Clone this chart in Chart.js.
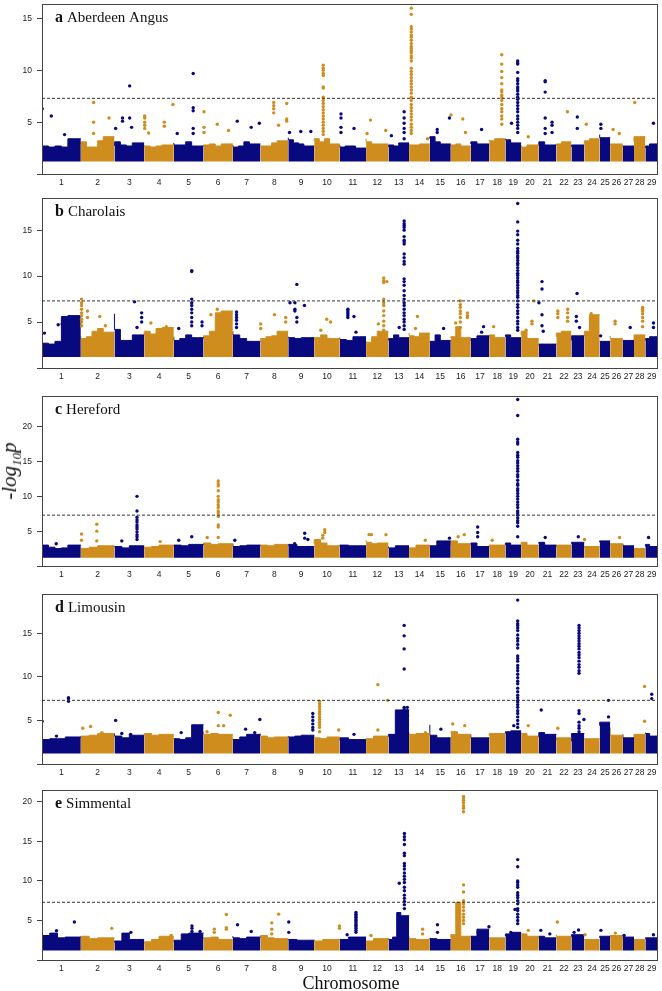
<!DOCTYPE html>
<html lang="en">
<head>
<meta charset="UTF-8">
<title>GWAS Manhattan plots</title>
<script src="https://cdn.jsdelivr.net/npm/chart.js"></script>
<style>
  body {
    margin: 0;
    background: #fff;
    width: 662px;
    height: 991px;
    position: relative;
    overflow: hidden;
  }
  .panel {
    position: absolute;
    left: 0;
    width: 662px;
    height: 196px;
  }
  #ylab {
    position: absolute;
    left: 11px;
    top: 471px;
    transform: translate(-50%, -50%) rotate(-90deg);
    font: italic 21px "Liberation Serif", "Times New Roman", serif;
    white-space: nowrap;
    color: #111;
  }
  #ylab sub { font-size: 13px; }
  #xlab {
    position: absolute;
    left: 351px;
    top: 973px;
    transform: translateX(-50%);
    font: 18px "Liberation Serif", "Times New Roman", serif;
    color: #111;
    white-space: nowrap;
  }
</style>
</head>
<body>
<div class="panel" style="top:0px"><canvas id="chartA" width="662" height="196"></canvas></div>
<div class="panel" style="top:194px"><canvas id="chartB" width="662" height="196"></canvas></div>
<div class="panel" style="top:392px"><canvas id="chartC" width="662" height="196"></canvas></div>
<div class="panel" style="top:590px"><canvas id="chartD" width="662" height="196"></canvas></div>
<div class="panel" style="top:786px"><canvas id="chartE" width="662" height="196"></canvas></div>
<div id="ylab">-log<sub>10</sub>p</div>
<div id="xlab">Chromosome</div>

<script>
// chromosome sizes (Mb) and labels
const chrLengths = [158.3, 137.1, 121.4, 120.7, 121.2, 119.5, 112.6, 113.4, 105.7, 104.3, 107.3, 91.2, 84.2, 84.6, 85.3,
                    81.7, 75.2, 66.0, 64.1, 72.0, 71.6, 61.4, 52.5, 62.7, 42.9, 51.7, 45.4, 46.3, 51.5];
const chrLabels = ['1', '2', '3', '4', '5', '6', '7', '8', '9', '10', '11', '12', '13', '14', '15',
                   '16', '17', '18', '19', '20', '21', '22', '23', '24', '25', '26', '27', '28', '29'];
const threshold = 7.3;
const bandBase = 1.2;

// dense background band: top of the band along each chromosome (-log10 p)
const angusBand = [
  [3.2, 2.7, 2.6, 2.7, 2.6, 3.4], [2.9, 3.1, 2.6, 2.6, 3.2, 3.6], [2.7, 3.1, 2.8, 2.7, 3.0], [2.8, 2.7, 2.6, 2.7, 2.8],
  [3.0, 2.8, 2.8, 3.1, 2.7], [2.7, 2.8, 2.9, 2.7, 2.9], [2.8, 2.6, 2.7, 3.1, 2.9], [2.7, 2.7, 2.7, 3.0, 3.2],
  [3.5, 3.3, 3.0, 2.9, 2.7], [3.2, 3.4, 3.1, 3.4, 2.9], [2.8, 2.6, 2.7, 2.7, 2.5], [3.4, 3.1, 2.9, 2.9],
  [2.6, 2.8, 2.7, 3.0], [2.9, 2.8, 2.8, 2.9], [3.4, 3.6, 3.1, 2.9], [2.7, 2.8, 2.9, 2.7],
  [2.9, 3.1, 2.9], [3.3, 3.2, 3.4], [3.4, 3.3, 3.0], [2.8, 2.6, 2.8], [2.7, 3.1, 2.8], [2.8, 2.9, 3.1],
  [2.6, 2.8], [2.9, 3.2, 3.4], [3.8, 3.5], [2.8, 2.9], [2.6, 2.7], [3.1, 3.6], [2.5, 2.7, 2.9]
];
const charolaisBand = [
  [3.0, 2.7, 2.6, 2.9, 5.6, 5.7], [3.5, 3.2, 3.4, 4.0, 4.3, 3.9], [5.9, 4.2, 3.0, 3.0, 3.6], [3.6, 4.0, 3.7, 4.3, 4.4],
  [3.4, 3.0, 3.2, 3.6, 3.3], [3.2, 3.5, 4.0, 6.0, 6.2], [4.0, 3.6, 3.2, 2.9], [3.0, 3.2, 3.4, 3.5, 4.0],
  [3.4, 3.3, 3.2, 3.3], [3.0, 3.3, 3.6, 3.2], [3.3, 3.1, 3.0, 3.4], [2.9, 2.8, 3.4, 4.0],
  [3.0, 3.2, 3.6, 3.3], [3.8, 3.5, 3.4, 3.8], [2.8, 2.9, 3.6, 3.0], [3.3, 3.4, 4.5, 3.3],
  [2.9, 3.2, 3.5], [3.2, 3.6, 3.3], [3.4, 3.6, 3.3], [3.6, 4.0, 3.2], [2.4, 2.6, 2.6], [3.4, 3.8, 4.0],
  [3.0, 3.5], [3.5, 4.0, 5.8], [2.9, 2.9], [3.5, 3.2], [2.9, 3.0], [3.0, 3.6], [3.0, 3.2, 3.4]
];
const herefordBand = [
  [3.3, 3.0, 2.7, 2.5, 2.6, 3.0], [2.6, 2.5, 2.7, 2.9], [2.7, 2.8, 2.6, 2.9], [2.5, 2.7, 2.8, 3.0],
  [2.8, 3.0, 2.9, 3.1], [3.0, 3.3, 3.1, 3.2], [3.2, 2.8, 2.9, 3.0], [2.9, 3.0, 2.9, 3.1],
  [2.9, 3.1, 2.8], [3.2, 3.8, 3.3, 2.9], [2.8, 3.0, 2.9], [3.7, 3.4, 3.2, 3.3],
  [2.8, 2.6, 2.9], [2.4, 2.6, 3.0], [2.7, 2.9, 3.6], [3.0, 3.6, 3.2],
  [3.0, 3.3, 2.8], [2.8, 3.0], [3.0, 3.3, 3.0], [3.1, 3.4, 3.0], [3.2, 3.4, 3.0], [2.7, 3.0],
  [3.2, 3.4], [2.6, 2.8], [3.4, 3.6], [3.0, 3.2], [3.2, 2.9], [2.6, 2.5], [2.8, 3.1, 2.8]
];
const limousinBand = [
  [3.5, 2.8, 2.9, 2.9, 3.1], [2.9, 3.2, 3.3, 3.5], [3.5, 3.2, 3.0, 3.3], [3.4, 3.5, 3.3, 3.4],
  [2.8, 2.9, 2.8, 3.0, 4.5], [3.7, 3.4, 3.5, 3.4], [2.9, 2.8, 3.1, 3.4], [3.5, 3.2, 3.0, 3.1],
  [3.2, 3.1, 3.2, 3.3], [3.3, 3.0, 2.9, 3.1], [2.7, 3.0, 2.8], [3.0, 2.9, 3.2],
  [3.1, 3.4, 6.2], [3.6, 3.4, 3.5], [4.5, 3.3, 3.0], [3.6, 3.7, 3.4],
  [3.4, 3.0, 3.0], [3.2, 3.5], [3.5, 3.7, 3.8], [3.6, 3.5, 3.2], [3.2, 3.6, 3.4], [2.7, 3.0],
  [2.6, 3.5], [2.9, 2.9], [4.4, 4.8], [4.2, 3.3], [3.4, 3.0], [2.8, 3.4], [3.6, 3.5, 3.2]
];
const simmentalBand = [
  [2.8, 3.1, 3.4, 2.8, 2.9], [2.9, 3.0, 2.7, 2.8], [2.2, 2.4, 3.4, 2.6], [2.1, 2.3, 2.6, 3.0],
  [2.3, 2.5, 3.3, 3.4], [2.7, 2.8, 2.9, 2.6], [3.0, 2.8, 2.7, 2.9], [2.9, 3.1, 2.8, 2.7],
  [2.6, 2.6, 2.5], [2.6, 2.4, 2.6], [2.6, 2.6, 2.9], [2.4, 2.4, 2.7],
  [2.7, 2.6, 2.9, 6.0, 5.6], [3.0, 2.7, 2.6], [2.8, 2.7, 2.6], [2.8, 3.2, 7.3, 3.0],
  [2.9, 3.0, 3.9], [2.6, 2.8], [3.0, 3.3, 3.5], [3.4, 3.3, 3.0], [2.8, 3.0, 2.8], [3.2, 3.0],
  [2.9, 3.2], [2.5, 2.6], [2.8, 3.0], [2.9, 3.1], [2.7, 2.9], [2.5, 2.6], [2.7, 2.8]
];

// SNPs standing out above the band: [chromosome, position in Mb, -log10 p values...]
const angusPeaks = [
  [1, 1, 6.3], [1, 38, 5.6], [1, 92, 3.8],
  [2, 52, 6.9, 5.0, 3.9], [2, 115, 5.4],
  [3, 62, 8.5, 5.4], [3, 33, 5.4, 5.1], [3, 5, 4.4], [3, 70, 4.5],
  [4, 2, 5.6, 5.4, 5.0, 4.7, 4.4], [4, 18, 3.95], [4, 82, 5.0, 4.6], [4, 117, 6.7],
  [5, 79, 9.7, 6.4, 6.1, 4.4, 3.9], [5, 14, 3.9],
  [6, 2, 6.0, 4.5, 4.0], [6, 56, 4.8], [6, 102, 4.2],
  [7, 18, 5.1], [7, 75, 4.5], [7, 108, 4.9],
  [8, 54, 6.9, 6.6, 6.3, 5.9], [8, 107, 6.8, 5.3, 5.1], [8, 74, 4.7],
  [9, 51, 4.1], [9, 92, 4.1], [9, 5, 4.0],
  [10, 37, 10.5, 10.2, 10.0, 9.7, 9.5, 8.4, 8.3, 7.4, 7.1, 6.8, 6.5, 6.2, 5.9, 5.6, 5.3, 5.0, 4.7, 4.4, 4.1, 3.8],
  [11, 5, 5.8, 5.4, 4.5, 4.0], [11, 58, 4.4],
  [12, 18, 5.2], [12, 80, 4.2], [12, 4, 3.9],
  [13, 64, 6.0, 5.4, 4.9, 4.4, 4.0, 3.4], [13, 12, 3.7],
  [14, 9, 16.0, 15.4, 14.2, 14.0, 13.7, 13.4, 13.2, 12.9, 12.6, 12.3, 12.1, 11.9, 11.7, 11.4, 11.2, 10.9, 10.2, 9.9, 9.6,
   9.3, 9.0, 8.7, 8.4, 8.1, 7.8, 7.4, 7.1, 6.7, 6.4, 6.1, 5.8, 5.5, 5.2, 4.8, 4.5, 4.2, 3.9], [14, 75, 3.4],
  [15, 80, 5.4], [15, 30, 4.3, 4.0], [16, 1, 5.7], [16, 49, 5.3], [16, 60, 4.0],
  [17, 44, 4.3],
  [18, 51, 11.5, 10.6, 9.9, 9.3, 8.7, 8.1, 7.9, 7.6, 7.4, 7.1, 6.7, 6.3, 6.0, 5.6, 5.3, 4.8],
  [19, 50, 10.9, 10.7, 10.6, 9.8, 9.2, 9.0, 8.7, 8.4, 8.2, 8.0, 7.7, 7.4, 7.2, 6.9, 6.6, 6.3, 6.0, 5.6, 5.3, 5.0, 4.7, 4.4, 4.0],
  [19, 25, 4.9],
  [20, 29, 3.6],
  [21, 26, 9.0, 8.9, 7.9, 5.4, 4.4, 3.9], [21, 54, 5.0, 4.7, 4.0],
  [22, 45, 6.0], [23, 24, 5.5, 4.4], [24, 8, 4.8], [25, 5, 4.8, 4.4],
  [26, 12, 4.3], [26, 37, 3.9], [28, 3, 6.9], [29, 33, 4.9]
];
const charolaisPeaks = [
  [1, 10, 3.8], [1, 66, 4.7], [1, 82, 4.8],
  [2, 3, 7.5, 7.1, 6.8, 6.4, 6.0, 5.7, 5.3, 5.0, 4.6], [2, 27, 6.2, 5.5], [2, 77, 5.6], [2, 100, 4.6],
  [3, 82, 7.2], [3, 111, 6.0, 5.5, 5.0], [3, 92, 4.4],
  [4, 27, 4.9], [4, 90, 4.5],
  [5, 20, 4.3], [5, 73, 10.6, 10.5, 7.5, 7.1, 6.8, 6.4, 6.0, 5.5, 5.0, 4.6], [5, 115, 5.0, 4.6],
  [6, 30, 5.8], [6, 56, 6.4],
  [7, 15, 6.1, 5.8, 5.5, 5.2, 4.8, 4.4],
  [8, 1, 4.8, 4.3], [8, 57, 5.8], [8, 103, 5.5, 5.0],
  [9, 35, 9.1, 5.5, 5.0], [9, 7, 7.1], [9, 27, 7.1, 6.4, 6.2], [9, 66, 6.8],
  [10, 51, 5.3], [10, 67, 5.0], [10, 27, 4.1],
  [11, 33, 6.4, 6.3, 6.1, 5.9, 5.7, 5.5], [11, 58, 5.6], [11, 66, 3.9],
  [12, 72, 9.8, 9.5, 9.3, 7.5, 7.1, 6.8, 6.2, 5.7, 5.1, 4.6, 4.1], [12, 85, 9.4], [12, 50, 4.8],
  [13, 64, 16.0, 15.7, 15.5, 15.3, 15.0, 14.3, 13.9, 13.7, 13.5, 12.4, 12.0, 11.6, 11.3, 9.7, 9.4, 9.0, 8.4, 7.9,
   7.5, 7.1, 6.8, 6.4, 6.0, 5.7, 5.3, 5.0, 4.6, 4.2], [13, 44, 4.4],
  [14, 34, 5.6], [14, 26, 4.3],
  [15, 56, 4.3],
  [16, 39, 7.3, 6.9, 6.6, 6.2, 5.9, 5.5, 5.0, 4.4], [16, 68, 6.0, 5.7, 5.5], [16, 20, 4.9],
  [17, 52, 4.5], [17, 44, 3.9],
  [18, 18, 4.5],
  [19, 50, 17.9, 15.9, 14.9, 14.5, 13.9, 13.5, 13.0, 12.7, 12.5, 12.2, 12.0, 11.7, 11.4, 11.2, 10.9, 10.6, 10.3, 10.1,
   9.8, 9.5, 9.3, 9.0, 8.7, 8.4, 8.2, 7.9, 7.7, 7.3, 6.9, 6.6, 6.2, 5.9, 5.5, 5.1, 4.8, 4.4, 4.1],
  [20, 52, 7.3], [20, 44, 5.1, 4.8], [20, 20, 4.1],
  [21, 13, 9.4, 8.6, 5.8, 4.6], [21, 0.5, 7.1], [21, 18, 4.0],
  [22, 6, 6.2, 5.9, 5.5], [22, 46, 6.4, 6.0, 5.5, 5.1],
  [23, 23, 8.1], [23, 20, 5.6, 5.1], [23, 33, 4.4],
  [24, 28, 5.9, 5.3, 5.0], [25, 4, 3.5], [26, 20, 5.1, 4.8], [27, 30, 4.4],
  [28, 35, 6.6, 6.4, 6.2, 5.9, 5.5, 5.1, 4.5],
  [29, 33, 4.9, 4.4]
];
const herefordPeaks = [
  [1, 58, 3.2],
  [2, 3, 4.6, 3.7], [2, 65, 6.0, 5.0, 3.6],
  [3, 92, 10.0, 7.9, 7.0, 6.6, 6.3, 5.9, 5.6, 5.3, 4.9, 4.5, 4.2, 3.8], [3, 30, 3.6],
  [4, 65, 3.5],
  [5, 20, 3.7], [5, 73, 4.2],
  [6, 60, 12.2, 11.8, 11.5, 10.8, 10.0, 9.5, 9.2, 8.8, 8.4, 7.9, 7.6, 7.1, 5.9, 5.6, 4.1], [6, 15, 4.1],
  [7, 8, 3.7],
  [9, 67, 4.7, 4.0], [9, 80, 3.8], [9, 26, 3.2],
  [10, 43, 5.2, 4.8], [10, 35, 4.4, 4.0],
  [12, 12, 4.5], [12, 22, 4.5], [12, 81, 4.5],
  [14, 66, 3.7], [15, 80, 4.0], [16, 30, 4.2], [16, 55, 4.5],
  [17, 28, 5.6, 4.8, 4.2],
  [18, 12, 3.7],
  [19, 50, 23.9, 21.6, 18.2, 17.8, 17.5, 16.3, 15.9, 15.6, 15.1, 14.8, 14.4, 14.0, 13.6, 13.1, 12.8, 12.3, 11.8, 11.6,
   11.1, 10.8, 10.4, 10.0, 9.6, 9.2, 8.8, 8.4, 7.9, 7.6, 7.3, 6.9, 6.5, 6.2, 5.7, 4.2],
  [21, 26, 4.1], [23, 28, 4.2], [24, 1, 3.8], [26, 38, 4.1], [29, 13, 4.1]
];
const limousinPeaks = [
  [1, 0.5, 4.9], [1, 108, 7.6, 7.5, 7.2], [1, 59, 3.2],
  [2, 8, 4.1], [2, 40, 4.3], [2, 86, 3.6],
  [3, 5, 5.0], [3, 30, 3.5], [3, 66, 3.4],
  [5, 30, 3.6],
  [6, 60, 5.9, 4.4], [6, 82, 4.4], [6, 109, 5.6], [6, 14, 3.7],
  [7, 52, 4.0], [7, 110, 5.1], [7, 89, 3.6],
  [9, 100, 5.8, 5.4, 5.0, 4.6, 4.2, 3.9],
  [10, 22, 7.2, 6.9, 6.6, 6.3, 6.0, 5.7, 5.4, 5.1, 4.8, 4.5, 4.2, 3.7], [10, 100, 3.9],
  [11, 58, 3.4],
  [12, 48, 9.1, 3.9], [12, 88, 7.3],
  [13, 64, 15.9, 14.7, 13.2, 10.9, 6.5, 6.3, 6.1, 5.9, 5.8, 5.4, 5.0, 4.5, 4.2, 3.8], [13, 77, 6.5, 6.1, 5.6], [13, 48, 4.6],
  [14, 67, 3.6], [15, 45, 4.0], [16, 8, 4.6], [16, 57, 4.4],
  [19, 50, 18.8, 16.4, 16.1, 15.9, 15.6, 15.3, 14.8, 14.4, 14.1, 13.7, 13.3, 12.4, 12.1, 11.8, 11.3, 11.0, 10.7, 10.3,
   9.9, 9.5, 9.2, 8.7, 8.3, 7.9, 7.6, 7.3, 7.1, 6.8, 6.5, 6.1, 5.8, 5.4, 5.0, 4.6, 4.2], [19, 34, 4.4],
  [20, 29, 4.4],
  [21, 10, 6.2], [21, 5, 3.2],
  [22, 6, 4.1],
  [23, 31, 15.9, 15.6, 15.3, 15.0, 14.7, 14.4, 14.1, 13.8, 13.5, 13.2, 12.8, 12.5, 12.2, 11.8, 11.4, 11.1, 10.7, 10.4,
   6.1, 5.8, 4.8, 4.4, 4.1, 3.7], [23, 51, 5.1],
  [25, 36, 7.3, 5.4],
  [28, 43, 8.9, 4.9],
  [29, 26, 8.0, 7.5]
];
const simmentalPeaks = [
  [1, 132, 4.8], [1, 59, 3.7],
  [2, 126, 4.0], [3, 67, 3.5], [4, 110, 3.1],
  [5, 74, 4.3, 4.0, 3.6], [5, 107, 3.6],
  [6, 44, 3.9, 3.5], [6, 93, 5.75, 4.1, 3.9],
  [7, 19, 4.45], [7, 75, 3.6],
  [8, 74, 5.8], [8, 46, 4.7, 3.9, 3.3],
  [9, 2, 4.8, 3.5],
  [10, 103, 4.3, 4.0],
  [11, 66, 6.0, 5.8, 5.6, 5.4, 5.2, 5.0, 4.8, 4.6, 4.4, 4.2, 4.0, 3.75, 3.5], [11, 30, 3.2],
  [12, 20, 3.1],
  [13, 65, 16.0, 15.6, 15.2, 14.6, 13.5, 13.2, 12.2, 11.9, 11.5, 11.0, 10.6, 10.2, 9.8, 9.2, 8.75, 8.2, 7.8, 7.4, 7.0, 6.5],
  [13, 44, 9.7],
  [14, 55, 3.9, 3.3], [15, 31, 4.45, 3.5],
  [16, 52, 20.7, 20.5, 20.2, 19.9, 19.5, 19.2, 18.75, 9.5, 8.6, 7.5, 7.1, 6.7, 6.25, 5.8, 5.4, 5.0, 4.6],
  [17, 74, 4.2], [17, 30, 3.5],
  [19, 50, 12.7, 11.8, 10.0, 9.8, 9.5, 9.2, 8.5, 8.2, 7.9, 7.5, 7.1, 6.5, 6.25, 5.8, 5.4, 5.0, 4.6], [19, 39, 6.4], [19, 22, 3.5],
  [20, 29, 3.75],
  [21, 8, 3.75], [21, 45, 3.3],
  [22, 4, 4.8],
  [23, 11, 3.5], [23, 29, 3.8], [24, 3, 3.2],
  [25, 5, 3.75], [26, 21, 3.4], [27, 5, 3.1], [29, 33, 3.2]
];

const chrStart = [];
let acc = 0;
chrLengths.forEach(l => { chrStart.push(acc); acc += l; });
const genomeLen = acc;
const chrMid = chrLengths.map((l, i) => chrStart[i] + l / 2);

const NAVY = '#08087f';
const GOLD = '#cf8d1e';
const colorOf = chr => (chr % 2 === 1 ? NAVY : GOLD);
const tickFont = { family: '"Liberation Sans", Arial, sans-serif', size: 8.5 };

function bandDatasets(band) {
  return band.map((vals, i) => {
    const n = vals.length, len = chrLengths[i];
    const pts = vals.map((v, k) => ({ x: chrStart[i] + len * k / n, y: v }));
    pts.push({ x: chrStart[i] + len, y: vals[n - 1] });
    return {
      type: 'line', data: pts, stepped: 'after',
      borderColor: colorOf(i + 1), backgroundColor: colorOf(i + 1), borderWidth: 1,
      pointRadius: 0, fill: { value: bandBase }, order: 3
    };
  });
}

function peakDataset(peaks, odd) {
  const pts = [];
  peaks.forEach(([chr, pos, ...vals]) => {
    if ((chr % 2 === 1) !== odd) return;
    vals.forEach(v => pts.push({ x: chrStart[chr - 1] + pos, y: v }));
  });
  return {
    type: 'scatter', data: pts, pointRadius: 1.7, pointBorderWidth: 0,
    pointBackgroundColor: odd ? NAVY : GOLD, order: 2
  };
}

// panel letter + breed name and the frame round the plot
const panelFrame = {
  id: 'panelFrame',
  afterDraw(chart, args, opts) {
    const { ctx, chartArea } = chart;
    ctx.save();
    ctx.strokeStyle = '#444';
    ctx.lineWidth = 1;
    ctx.strokeRect(chartArea.left + 0.5, chartArea.top + 0.5,
                   chartArea.right - chartArea.left - 1, chartArea.bottom - chartArea.top);
    ctx.fillStyle = '#111';
    ctx.textBaseline = 'alphabetic';
    const x = chartArea.left + 13, y = chartArea.top + 18;
    ctx.font = 'bold 16px "Liberation Serif", serif';
    ctx.fillText(opts.letter, x, y);
    const w = ctx.measureText(opts.letter).width + 4;
    ctx.font = '15px "Liberation Serif", serif';
    ctx.fillText(opts.name, x + w, y);
    ctx.restore();
  }
};

const panels = [
  { id: 'chartA', letter: 'a', name: 'Aberdeen Angus', yMax: 16.4, band: angusBand, peaks: angusPeaks },
  { id: 'chartB', letter: 'b', name: 'Charolais', yMax: 18.5, band: charolaisBand, peaks: charolaisPeaks },
  { id: 'chartC', letter: 'c', name: 'Hereford', yMax: 24.4, band: herefordBand, peaks: herefordPeaks },
  { id: 'chartD', letter: 'd', name: 'Limousin', yMax: 19.5, band: limousinBand, peaks: limousinPeaks },
  { id: 'chartE', letter: 'e', name: 'Simmental', yMax: 21.5, band: simmentalBand, peaks: simmentalPeaks }
];

panels.forEach(p => {
  const datasets = [
    ...bandDatasets(p.band),
    peakDataset(p.peaks, true),
    peakDataset(p.peaks, false),
    {
      type: 'line', data: [{ x: 0, y: threshold }, { x: genomeLen, y: threshold }],
      borderColor: '#333', borderWidth: 1, borderDash: [3, 2], pointRadius: 0, fill: false, order: 1
    }
  ];
  new Chart(document.getElementById(p.id), {
    type: 'scatter',
    data: { datasets },
    options: {
      responsive: false,
      animation: false,
      events: [],
      layout: { padding: { top: 2, right: 2, left: 0, bottom: 0 } },
      plugins: {
        legend: { display: false },
        tooltip: { enabled: false },
        panelFrame: { letter: p.letter, name: p.name }
      },
      scales: {
        x: {
          type: 'linear', min: 0, max: genomeLen,
          grid: { display: false, drawTicks: false },
          border: { display: false },
          afterBuildTicks: s => { s.ticks = chrMid.map(v => ({ value: v })); },
          afterFit: s => { s.height = 22; s.paddingLeft = 0; s.paddingRight = 0; },
          ticks: {
            autoSkip: false, maxRotation: 0, minRotation: 0, padding: 4,
            font: tickFont, color: '#222',
            callback: (v, i) => chrLabels[i]
          }
        },
        y: {
          min: 0, max: p.yMax,
          grid: { drawOnChartArea: false, drawTicks: true, tickLength: 5, color: '#444' },
          border: { display: false },
          afterFit: s => { s.width = 42; s.paddingTop = 0; s.paddingBottom = 0; },
          ticks: {
            stepSize: 5, includeBounds: false, padding: 5,
            font: tickFont, color: '#222',
            callback: v => (v === 0 ? '' : v)
          }
        }
      }
    },
    plugins: [panelFrame]
  });
});
</script>
</body>
</html>
